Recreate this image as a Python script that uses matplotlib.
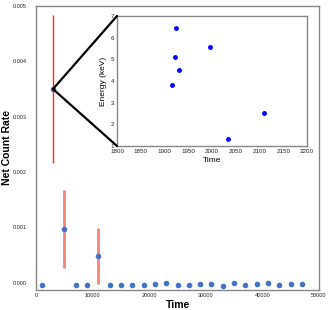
import matplotlib
matplotlib.use("Agg")
import matplotlib.pyplot as plt
from matplotlib.patches import ConnectionPatch

plt.rcParams['font.family'] = ['Liberation Sans', 'DejaVu Sans']

# Main light curve data
times = [1000, 3000, 5000, 7000, 9000, 11000, 13000, 15000, 17000, 19000,
         21000, 23000, 25000, 27000, 29000, 31000, 33000, 35000, 37000,
         39000, 41000, 43000, 45000, 47000]
rates = [-0.000043, 0.0035, 0.00097, -0.000037, -0.000037, 0.00048,
         -0.000037, -0.000037, -0.000043, -0.000037, -0.000025, -0.000012,
         -0.000043, -0.000037, -0.000025, -0.000025, -0.000049, -0.000012,
         -0.000043, -0.00003, -0.000012, -0.000043, -0.00003, -0.00003]
# error bars (only on the detected bins)
err_times = [3000, 5000, 11000]
err_vals = [0.0035, 0.00097, 0.00048]
err_sizes = [0.00134, 0.00071, 0.00051]
err_colors = ['#ff2a1a', '#f8837c', '#f8837c']
err_widths = [1.0, 2.0, 2.0]

# Inset: photon events
ev_time = [1925, 1996, 1922, 1931, 1915, 2109, 2034]
ev_energy = [6.45, 5.58, 5.12, 4.49, 3.82, 2.54, 1.31]

W, H = 334, 310
fig = plt.figure(figsize=(W / 100, H / 100), dpi=100)

ax = fig.add_axes([36 / W, 1 - 290 / H, (319 - 36) / W, (290 - 6) / H])
for t, v, e, c, lw in zip(err_times, err_vals, err_sizes, err_colors, err_widths):
    ax.errorbar([t], [v], yerr=[e], fmt='none', ecolor=c, elinewidth=lw, capsize=0, zorder=2)
ax.plot(times, rates, 'o', color='#4472c4', markersize=3, zorder=3)
ax.set_xlim(0, 50000)
ax.set_ylim(-0.00013, 0.005)
ax.set_xticks([0, 10000, 20000, 30000, 40000, 50000])
ax.set_yticks([0, 0.001, 0.002, 0.003, 0.004, 0.005])
ax.set_yticklabels(['%.3f' % v for v in [0, 0.001, 0.002, 0.003, 0.004, 0.005]])
ax.tick_params(axis='x', length=0, pad=2.5, labelsize=4, colors='#222222')
ax.tick_params(axis='y', length=0, pad=6.5, labelsize=4, colors='#222222')
ax.set_xlabel('Time', fontsize=7.5, fontweight='bold', labelpad=1)
ax.set_ylabel('Net Count Rate', fontsize=7.5, fontweight='bold')
ax.yaxis.set_label_coords(-0.086, 0.5)
for s in ax.spines.values():
    s.set_color('#888888')
    s.set_linewidth(1.0)

axi = fig.add_axes([117 / W, 1 - 146 / H, (307 - 117) / W, (146 - 16) / H])
axi.plot(ev_time, ev_energy, 'o', color='blue', markersize=2.5)
axi.set_xlim(1800, 2200)
axi.set_ylim(1, 7)
axi.set_xticks(list(range(1800, 2201, 50)))
axi.set_yticks(list(range(1, 8)))
axi.tick_params(length=0, pad=2, labelsize=4.5, colors='#222222')
axi.set_xlabel('Time', fontsize=6, labelpad=2)
axi.set_ylabel('Energy (keV)', fontsize=6, labelpad=3)
for s in axi.spines.values():
    s.set_color('#888888')
    s.set_linewidth(1.0)

for yc in (7, 1):
    con = ConnectionPatch(xyA=(3000, 0.0035), coordsA=ax.transData,
                          xyB=(1800, yc), coordsB=axi.transData,
                          color='black', linewidth=1.6, zorder=5)
    fig.add_artist(con)

fig.savefig('out.png', dpi=100)
